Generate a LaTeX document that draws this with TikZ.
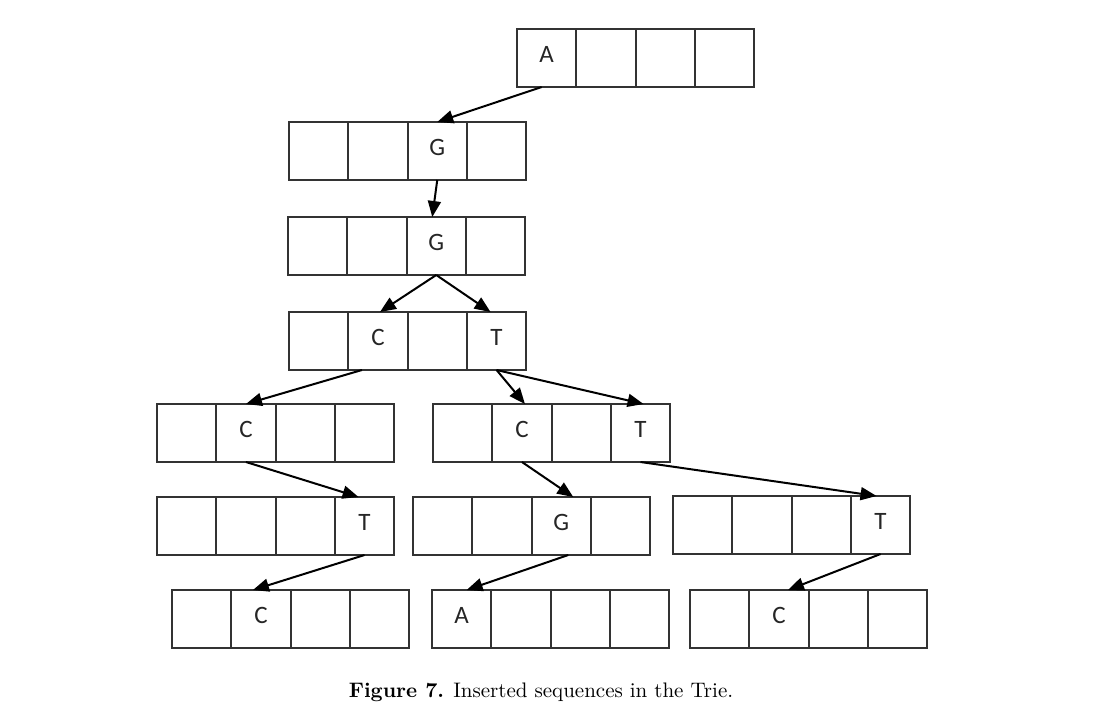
\documentclass[tikz,border=0pt]{standalone}
\usepackage{fontspec}
\newfontfamily\cellfont{Carlito}
\usetikzlibrary{arrows.meta}
\newcommand\trierow[3]{%
  \foreach \i in {1,...,4} {
    \node[cell] (#1-\i) at ({#2+(\i-1)*59.3},#3) {};
  }}
\begin{document}
\begin{tikzpicture}[x=0.5pt,y=-0.5pt,
  cell/.style={draw=black!80, line width=0.9pt, minimum width=29.65pt, minimum height=29pt, inner sep=0pt, outer sep=0pt, anchor=north west},
  lbl/.style={font=\cellfont\fontsize{12.5}{14}\selectfont, text=black!85, inner sep=0pt},
  link/.style={draw=black, line width=1pt, -{Triangle[length=8pt,width=6.5pt]}}]
\useasboundingbox (0,0) rectangle (1107,712);
\fill[white] (0,0) rectangle (1107,712);
% rows
\trierow{r1}{517}{29}
\trierow{r2}{289}{122}
\trierow{r3}{288}{217}
\trierow{r4}{289}{312}
\trierow{r5l}{157}{404}
\trierow{r5r}{433}{404}
\trierow{r6l}{157}{497}
\trierow{r6m}{413}{497}
\trierow{r6r}{673}{496}
\trierow{r7l}{172}{590}
\trierow{r7m}{432}{590}
\trierow{r7r}{690}{590}
% labels
\node[lbl] (t1) at ([yshift=2pt]r1-1.center) {A};
\node[lbl] (t2) at ([yshift=2pt]r2-3.center) {G};
\node[lbl] (t3) at ([yshift=2pt]r3-3.center) {G};
\node[lbl] (t4a) at ([yshift=2pt]r4-2.center) {C};
\node[lbl] (t4b) at ([yshift=2pt]r4-4.center) {T};
\node[lbl] (t5a) at ([yshift=2pt]r5l-2.center) {C};
\node[lbl] (t5b) at ([yshift=2pt]r5r-2.center) {C};
\node[lbl] (t5c) at ([yshift=2pt]r5r-4.center) {T};
\node[lbl] (t6a) at ([yshift=2pt]r6l-4.center) {T};
\node[lbl] (t6b) at ([yshift=2pt]r6m-3.center) {G};
\node[lbl] (t6c) at ([yshift=2pt]r6r-4.center) {T};
\node[lbl] (t7a) at ([yshift=2pt]r7l-2.center) {C};
\node[lbl] (t7b) at ([yshift=2pt]r7m-1.center) {A};
\node[lbl] (t7c) at ([yshift=2pt]r7r-2.center) {C};
% links
\draw[link] ([xshift=-2.5pt]r1-1.south) -- (r2-3.north);
\draw[link] (r2-3.south) -- ([xshift=-2pt]r3-3.north);
\draw[link] (r3-3.south) -- ([xshift=1pt]r4-2.north);
\draw[link] (r3-3.south) -- ([xshift=-3pt]r4-4.north);
\draw[link] ([xshift=-8pt]r4-2.south) -- (r5l-2.north);
\draw[link] (r4-4.south) -- ([xshift=1.5pt]r5r-2.north);
\draw[link] (r4-4.south) -- ([xshift=1.5pt]r5r-4.north);
\draw[link] (r5l-2.south) -- ([xshift=-3pt]r6l-4.north);
\draw[link] (r5r-2.south) -- ([xshift=6pt]r6m-3.north);
\draw[link] (r5r-4.south) -- ([xshift=-2pt]r6r-4.north);
\draw[link] (r6l-4.south) -- ([xshift=-4pt]r7l-2.north);
\draw[link] ([xshift=3.5pt]r6m-3.south) -- ([xshift=2.5pt]r7m-1.north);
\draw[link] (r6r-4.south) -- ([xshift=4.5pt]r7r-2.north);
% caption
\node[font=\fontsize{10.5}{12}\selectfont, anchor=base, inner sep=0pt] (cap) at (541,697) {\textbf{Figure 7.} Inserted sequences in the Trie.};
\end{tikzpicture}
\end{document}
